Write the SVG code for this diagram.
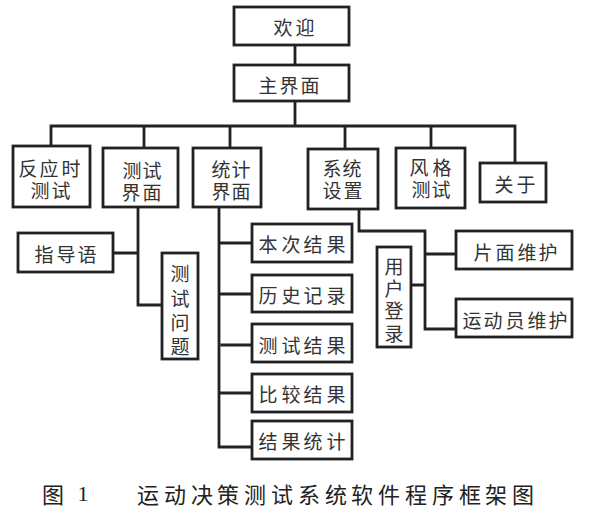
<svg xmlns="http://www.w3.org/2000/svg" width="594" height="521" viewBox="0 0 594 521">
<style>
.box{fill:#fff;stroke:#222;stroke-width:2.8}
.ln{fill:none;stroke:#222;stroke-width:2.8;stroke-linecap:square}
text{font-family:"Noto Sans CJK SC","Noto Sans CJK JP",sans-serif;font-size:19px;fill:#333;text-anchor:middle;dominant-baseline:central}
.cap{font-size:22px;fill:#222}
</style>
<rect width="594" height="521" fill="#fff"/>
<g id="connectors">
<path class="ln" d="M295 45V65M295 101V126M51 126H515M51 126V146M144 126V148M230 126V148M345 126V149M431 126V148M515 126V163"/>
<path class="ln" d="M138 207V305H162M113 253H138"/>
<path class="ln" d="M219 207V447H252M219 243H252M219 294H252M222 345H252M219 393H252"/>
<path class="ln" d="M359 209V231H425V329H456M425 254H456M411 285H425"/>
</g>
<g id="n-welcome"><rect class="box" x="234" y="7" width="115" height="38"/><text x="283 305" y="26">欢迎</text></g>
<g id="n-main"><rect class="box" x="234" y="65" width="115" height="36"/><text x="268 289 310" y="84">主界面</text></g>
<g id="n-reaction"><rect class="box" x="13" y="146" width="77" height="61"/><text x="28 49 71 40 61" y="167 167 167 189 189">反应时测试</text></g>
<g id="n-testui"><rect class="box" x="103" y="148" width="75" height="59"/><text x="132 152 131 152" y="169 169 191 191">测试界面</text></g>
<g id="n-statui"><rect class="box" x="193" y="148" width="68" height="59"/><text x="221 241 221 241" y="168 168 190 190">统计界面</text></g>
<g id="n-settings"><rect class="box" x="308" y="149" width="70" height="60"/><text x="332 352 332 353" y="167 167 189 189">系统设置</text></g>
<g id="n-style"><rect class="box" x="396" y="148" width="69" height="60"/><text x="419 442 421 441" y="166 166 188 188">风格测试</text></g>
<g id="n-about"><rect class="box" x="480" y="163" width="66" height="39"/><text x="504 526" y="183">关于</text></g>
<g id="n-guide"><rect class="box" x="18" y="233" width="95" height="39"/><text x="44 66 87" y="253">指导语</text></g>
<g id="n-questions"><rect class="box" x="162" y="253" width="36" height="106"/><text x="180 180 180 180" y="272 297 321 345">测试问题</text></g>
<g id="n-this"><rect class="box" x="252" y="224" width="100" height="38"/><text x="268 291 313 336" y="243">本次结果</text></g>
<g id="n-history"><rect class="box" x="252" y="275" width="100" height="37"/><text x="268 291 313 336" y="294">历史记录</text></g>
<g id="n-testres"><rect class="box" x="252" y="324" width="100" height="38"/><text x="268 291 313 336" y="344">测试结果</text></g>
<g id="n-compare"><rect class="box" x="252" y="374" width="100" height="38"/><text x="268 291 313 336" y="393">比较结果</text></g>
<g id="n-stats"><rect class="box" x="252" y="421" width="100" height="38"/><text x="268 291 313 336" y="440">结果统计</text></g>
<g id="n-login"><rect class="box" x="377" y="247" width="34" height="100"/><text x="394 394 394 394" y="265 287 309 332">用户登录</text></g>
<g id="n-face"><rect class="box" x="456" y="231" width="116" height="38"/><text x="483 505 527 548" y="251">片面维护</text></g>
<g id="n-athlete"><rect class="box" x="456" y="299" width="116" height="38"/><text x="472 493 515 537 558" y="319">运动员维护</text></g>
<g id="caption"><text class="cap"><tspan x="53" y="493">图</tspan><tspan x="83" y="493" style="font-family:'Liberation Serif',serif">1</tspan><tspan x="148 175 202 228 255 282 309 336 362 389 416 443 470 496 523" y="493">运动决策测试系统软件程序框架图</tspan></text></g>
</svg>
